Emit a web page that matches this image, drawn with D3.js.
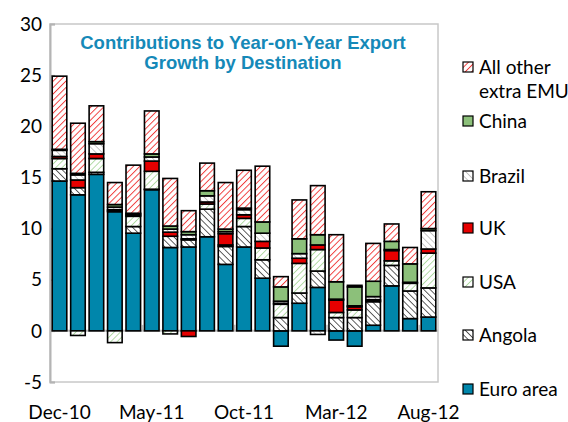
<!DOCTYPE html>
<html>
<head>
<meta charset="utf-8">
<script src="https://cdn.jsdelivr.net/npm/d3@7"></script>
<style>
  body { margin: 0; background: #fff; }
  svg text { font-family: Lato, "Noto Sans", sans-serif; fill: #000; }
</style>
</head>
<body>
<div id="chart"></div>
<script>
// Contributions to y-o-y export growth, stacked by destination
const months = ["Dec-10","Jan-11","Feb-11","Mar-11","Apr-11","May-11","Jun-11","Jul-11",
  "Aug-11","Sep-11","Oct-11","Nov-11","Dec-11","Jan-12","Feb-12","Mar-12","Apr-12",
  "May-12","Jun-12","Jul-12","Aug-12"];
const xTickLabels = ["Dec-10","May-11","Oct-11","Mar-12","Aug-12"];
const yTicks = [-5, 0, 5, 10, 15, 20, 25, 30];

const euroArea = [14.65, 13.3, 15.3, 11.65, 9.55, 13.8, 8.15, 8.2, 9.2, 6.5, 8.2, 5.15, -1.5, 2.7, 4.25, -0.9, -1.5, 0.55, 4.4, 1.2, 1.35];
const angola   = [1.2, 0.7, 0.2, 0.1, 0.65, 0.05, 1.1, 0.7, 2.7, 1.75, 2.0, 1.8, 1.3, 1.0, 1.6, 1.3, 1.3, 2.3, 2.0, 2.7, 2.85];
const usa      = [1.0, -0.45, 1.35, -1.15, 1.0, 1.75, -0.3, 0.1, 0.5, 0.15, 0.8, 1.15, 1.3, 2.9, 2.1, 0.5, 0.75, 0.1, 0.45, 0.75, 3.4];
const uk       = [0.2, 0.75, 0.45, 0.1, 0.1, 1.0, 0.4, -0.55, 0.2, 1.1, 0.35, 0.65, 0.1, 0.5, 0.45, 1.2, 0.3, 0.1, 1.0, 0.05, 0.4];
const brazil   = [0.6, 0.5, 1.0, 0.25, 0.1, 0.4, 0.3, 0.4, 0.6, 0.2, 0.5, 0.8, 0.2, 0.45, -0.35, 0.1, 0.1, 0.3, 0.1, 0.05, 1.8];
const china    = [0.1, 0.15, 0.2, 0.25, 0.1, 0.3, 0.3, 0.3, 0.5, 0.25, 0.15, 1.1, 1.4, 1.45, 1.0, 1.7, 1.85, 1.5, 0.8, 1.8, 0.2];
const other    = [7.15, 4.9, 3.5, 2.15, 4.7, 4.2, 4.65, 2.05, 2.7, 4.55, 3.7, 5.45, 1.0, 3.8, 4.8, 4.6, 0.15, 3.7, 1.7, 1.6, 3.6];

const seriesNames = ["Euro area","Angola","USA","UK","Brazil","China","All other extra EMU"];
const seriesValues = [euroArea, angola, usa, uk, brazil, china, other];

const W = 568, H = 422;
const plot = { left: 50, right: 438, top: 24, bottom: 382 };

const svg = d3.select("#chart").append("svg").attr("width", W).attr("height", H);

// hatch patterns
const defs = svg.append("defs");
function hatch(id, color, angle, sw) {
  const p = defs.append("pattern")
    .attr("id", id)
    .attr("patternUnits", "userSpaceOnUse")
    .attr("width", 4.5).attr("height", 4.5)
    .attr("patternTransform", `rotate(${angle})`);
  p.append("rect").attr("width", 4.5).attr("height", 4.5).attr("fill", "#fff");
  p.append("line").attr("x1", 0).attr("y1", 0).attr("x2", 0).attr("y2", 4.5)
    .attr("stroke", color).attr("stroke-width", sw);
}
hatch("h-other", "#f03c3c", 45, 1.9);
hatch("h-usa", "#a3d494", 45, 1.6);
hatch("h-angola", "#505050", -45, 1.8);
hatch("h-brazil", "#b8b8b8", -45, 1.6);

const fills = {
  "Euro area": "#0086ab",
  "Angola": "url(#h-angola)",
  "USA": "url(#h-usa)",
  "UK": "#e60000",
  "Brazil": "url(#h-brazil)",
  "China": "#8cc07a",
  "All other extra EMU": "url(#h-other)"
};

const table = months.map((m, i) => {
  const row = { month: m };
  seriesNames.forEach((s, j) => { row[s] = seriesValues[j][i]; });
  return row;
});

const x = d3.scaleBand().domain(months).range([plot.left, plot.right])
  .paddingInner(0.21).paddingOuter(0.12);
const y = d3.scaleLinear().domain([-5, 30]).range([plot.bottom, plot.top]);

// plot frame
svg.append("rect")
  .attr("x", plot.left).attr("y", plot.top)
  .attr("width", plot.right - plot.left).attr("height", plot.bottom - plot.top)
  .attr("fill", "none").attr("stroke", "#c8c8c8").attr("stroke-width", 1.5);

// y axis
const yAxis = svg.append("g").attr("transform", `translate(${plot.left},0)`)
  .call(d3.axisRight(y).tickValues(yTicks).tickSize(5).tickFormat(""));
yAxis.select(".domain").attr("stroke", "#b4b4b4").attr("stroke-width", 2);
yAxis.selectAll(".tick line").attr("stroke", "#b4b4b4").attr("stroke-width", 1.5);

svg.append("g").selectAll("text").data(yTicks).join("text")
  .attr("x", 42).attr("y", d => y(d)).attr("dy", "0.35em")
  .attr("text-anchor", "end").style("font-size", "19px")
  .text(d => d);

// stacked bars
const stack = d3.stack().keys(seriesNames).offset(d3.stackOffsetDiverging);
const layers = stack(table);

// zero line + category ticks (drawn under bars)
svg.append("line")
  .attr("x1", plot.left).attr("x2", plot.right)
  .attr("y1", y(0)).attr("y2", y(0))
  .attr("stroke", "#bdbdbd").attr("stroke-width", 2);
const step = x.step();
svg.append("g").selectAll("line").data([5, 10, 15, 20]).join("line")
  .attr("x1", d => x(months[d]) - step * x.paddingInner() / 2)
  .attr("x2", d => x(months[d]) - step * x.paddingInner() / 2)
  .attr("y1", y(0)).attr("y2", y(0) - 6)
  .attr("stroke", "#bdbdbd").attr("stroke-width", 1.5);

svg.append("g").selectAll("g").data(layers).join("g")
  .attr("fill", d => fills[d.key])
  .selectAll("rect").data(d => d).join("rect")
  .attr("x", d => x(d.data.month))
  .attr("width", x.bandwidth())
  .attr("y", d => y(Math.max(d[0], d[1])))
  .attr("height", d => Math.abs(y(d[0]) - y(d[1])))
  .attr("stroke", "#000").attr("stroke-width", 1.6);

// x labels
svg.append("g").selectAll("text").data(xTickLabels).join("text")
  .attr("x", d => x(d) + x.bandwidth() / 2)
  .attr("y", 412).attr("dy", "0.35em")
  .attr("text-anchor", "middle").style("font-size", "19px")
  .text(d => d);

// title
const title = svg.append("text")
  .attr("x", 243).attr("y", 43).attr("text-anchor", "middle")
  .style("font-family", "'Liberation Sans', Arial, sans-serif")
  .style("font-weight", "bold").style("font-size", "18.5px")
  .style("fill", "#1589b8");
title.append("tspan").attr("x", 243).attr("dy", "0.35em").text("Contributions to Year-on-Year Export");
title.append("tspan").attr("x", 243).attr("dy", "1.08em").text("Growth by Destination");

// legend
const legendItems = [
  { key: "All other extra EMU", lines: ["All other", "extra EMU"], y: 67 },
  { key: "China", lines: ["China"], y: 121 },
  { key: "Brazil", lines: ["Brazil"], y: 176 },
  { key: "UK", lines: ["UK"], y: 228 },
  { key: "USA", lines: ["USA"], y: 282 },
  { key: "Angola", lines: ["Angola"], y: 335 },
  { key: "Euro area", lines: ["Euro area"], y: 389 }
];
const lg = svg.append("g").selectAll("g").data(legendItems).join("g")
  .attr("transform", d => `translate(463,${d.y})`);
lg.append("rect").attr("x", 0).attr("y", -5).attr("width", 10).attr("height", 10)
  .attr("fill", d => fills[d.key]).attr("stroke", "#000").attr("stroke-width", 1.2);
lg.each(function (d) {
  const t = d3.select(this).append("text").attr("x", 16).attr("y", 0)
    .style("font-size", "19px");
  d.lines.forEach((l, i) => {
    t.append("tspan").attr("x", 16).attr("dy", i === 0 ? "0.35em" : "1.3em").text(l);
  });
});
</script>
</body>
</html>
